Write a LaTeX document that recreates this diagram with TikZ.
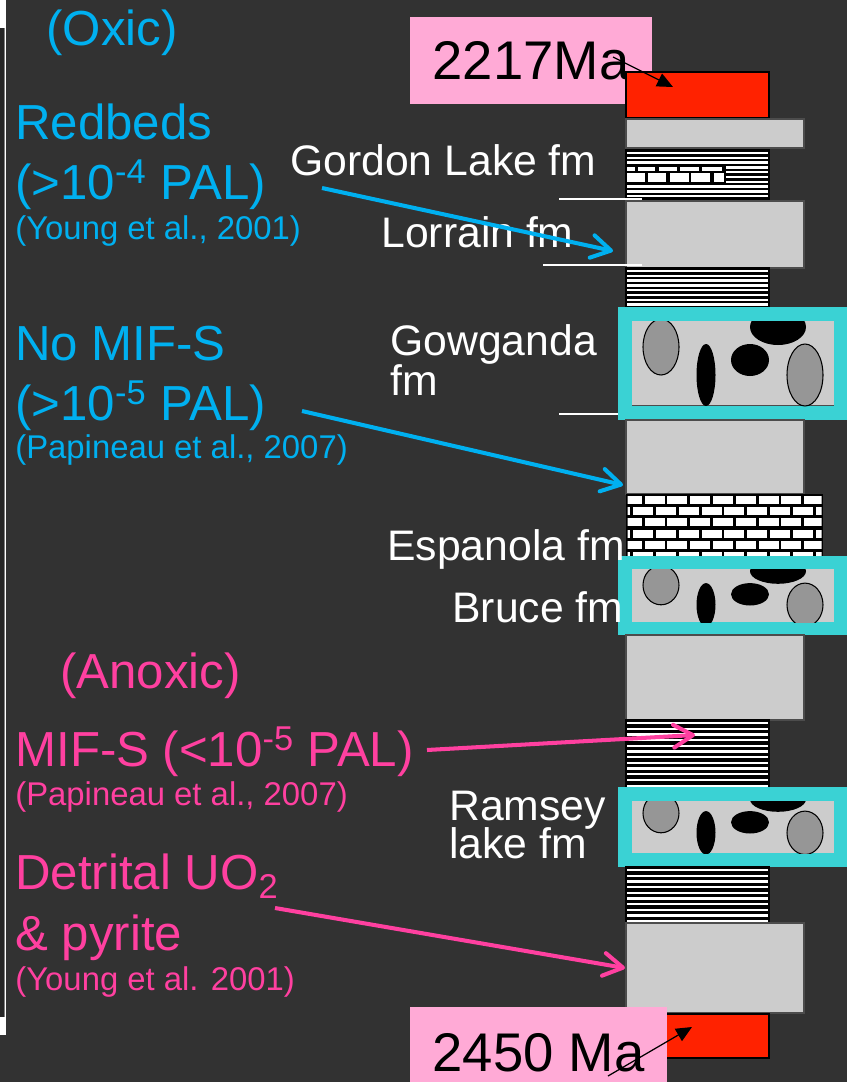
\documentclass[tikz,border=0pt]{standalone}
\usepackage{fontspec}
\setmainfont{Liberation Sans}
\usetikzlibrary{arrows.meta}

\definecolor{bgdark}{RGB}{50,50,50}
\definecolor{oxicblue}{RGB}{0,176,240}
\definecolor{anoxicpink}{RGB}{255,64,160}
\definecolor{agepink}{RGB}{255,170,214}
\definecolor{bedred}{RGB}{255,34,0}
\definecolor{bedgray}{RGB}{204,204,204}
\definecolor{clastgray}{RGB}{150,150,150}
\definecolor{framecyan}{RGB}{58,210,212}

\begin{document}
\begin{tikzpicture}[x=0.02cm, y=-0.02cm,
    graybed/.style={fill=bedgray, draw=black!70, line width=0.6pt},
    shalebed/.style={fill=black, draw=black, line width=0.9pt},
    shaleline/.style={white, line width=1.3pt},
    redbed/.style={fill=bedred, draw=black, line width=0.9pt},
    clast/.style={fill=clastgray, draw=black, line width=0.6pt},
    textlabel/.style={anchor=base west, inner sep=0pt},
    bigtext/.style={textlabel, font=\fontsize{28}{30}\selectfont},
    reftext/.style={textlabel, font=\fontsize{18.7}{20}\selectfont},
    fmtext/.style={textlabel, text=white, font=\fontsize{24.3}{26}\selectfont},
    agebox/.style={fill=agepink, inner sep=0pt, font=\fontsize{31}{33}\selectfont},
    fmtick/.style={white, line width=1pt},
    oxicarrow/.style={oxicblue, line width=2.3pt, -{Straight Barb[length=11pt, width=13pt, round]}},
    anoxicarrow/.style={anoxicpink, line width=2.3pt, -{Straight Barb[length=11pt, width=13pt, round]}},
    agearrow/.style={black, line width=0.7pt, -{Triangle[length=9pt, width=8pt]}}]
    \useasboundingbox (0,0) rectangle (847,1082);
    \fill[bgdark] (0,0) rectangle (847,1082);

    % draw cut edge on the left
    \fill[white] (0,0) rectangle (5.7,1035);
    \fill[black!85] (0,28) rectangle (3.5,1017);
    \draw[gray, line width=0.5pt] (4,28) -- (4,1017);

% column, top to bottom
    % draw top red bed and age box
    \node[agebox, minimum width=4.84cm, minimum height=1.74cm] (topage) at (531,60.5) {2217Ma};
    \filldraw[redbed] (626,72) rectangle (769,118);
    \filldraw[graybed] (626,119) rectangle (804,148);

    % draw Gordon Lake shale with limestone band
    \filldraw[shalebed] (626,150) rectangle (769,201);
    \foreach \y in {153,157.8,...,199}
        \draw[shaleline] (627,\y) -- (768,\y);
    \fill[black] (626,165) rectangle (726,183);
    \foreach \xa/\xb in {627/635, 637.5/655, 658.5/676.5, 680/698.5, 701.5/721.5}
        \fill[white] (\xa,166.7) rectangle (\xb,171);
    \foreach \xa/\xb in {627/644.5, 647.5/666, 669.5/688.5, 691/710, 713.5/724}
        \fill[white] (\xa,173.3) rectangle (\xb,181.7);

    % draw Lorrain sandstone and shale
    \filldraw[graybed] (626,201) rectangle (804,268);
    \filldraw[shalebed] (626,268) rectangle (769,307);
    \foreach \y in {271,275.8,...,306}
        \draw[shaleline] (627,\y) -- (768,\y);

    % draw Gowganda conglomerate
    \fill[framecyan] (618,307) rectangle (847,420);
    \fill[bedgray] (632,321) rectangle (834,406);
    \draw[black!70, line width=0.6pt] (632,405.5) -- (834,405.5);
    \begin{scope}
        \clip (632,321) rectangle (834,406);
        \begin{scope}[shift={(0,321)}]
            \filldraw[clast] (661,26) ellipse [x radius=18, y radius=28];
            \fill (706,54) ellipse [x radius=9.5, y radius=31];
            \fill (778,6) ellipse [x radius=28, y radius=18];
            \fill (750,39) ellipse [x radius=19, y radius=16];
            \filldraw[clast] (805,54) ellipse [x radius=18, y radius=31];
        \end{scope}
    \end{scope}
    \filldraw[graybed] (626,420) rectangle (804,494);

    % draw Espanola limestone
    \fill[black] (626,494) rectangle (823,556);
    \begin{scope}
        \clip (627.5,495.5) rectangle (821.5,556);
        \foreach \row in {0,...,5}
            \foreach \col in {0,...,9}
                \fill[white] ({621.7+22.8*\col-11.4*mod(\row,2)},{496+11.2*\row}) rectangle ++(20,8);
    \end{scope}

    % draw Bruce conglomerate
    \fill[framecyan] (618,556) rectangle (847,635);
    \fill[bedgray] (632,569) rectangle (834,622);
    \begin{scope}
        \clip (632,569) rectangle (834,622);
        \begin{scope}[shift={(0,567)}, yscale=0.7]
            \filldraw[clast] (661,26) ellipse [x radius=18, y radius=28];
            \fill (706,54) ellipse [x radius=9.5, y radius=31];
            \fill (778,6) ellipse [x radius=28, y radius=18];
            \fill (750,39) ellipse [x radius=19, y radius=16];
            \filldraw[clast] (805,54) ellipse [x radius=18, y radius=31];
        \end{scope}
    \end{scope}
    \filldraw[graybed] (626,635) rectangle (804,720);
    \filldraw[shalebed] (626,720) rectangle (769,787);
    \foreach \y in {723,728.7,...,786}
        \draw[shaleline] (627,\y) -- (768,\y);

    % draw Ramsey Lake conglomerate
    \fill[framecyan] (618,787) rectangle (847,867);
    \fill[bedgray] (632,801) rectangle (834,853);
    \begin{scope}
        \clip (632,801) rectangle (834,853);
        \begin{scope}[shift={(0,795)}, yscale=0.7]
            \filldraw[clast] (661,26) ellipse [x radius=18, y radius=28];
            \fill (706,54) ellipse [x radius=9.5, y radius=31];
            \fill (778,6) ellipse [x radius=28, y radius=18];
            \fill (750,39) ellipse [x radius=19, y radius=16];
            \filldraw[clast] (805,54) ellipse [x radius=18, y radius=31];
        \end{scope}
    \end{scope}
    \filldraw[shalebed] (626,867) rectangle (769,923);
    \foreach \y in {870,875.7,...,922}
        \draw[shaleline] (627,\y) -- (768,\y);
    \filldraw[graybed] (626,923) rectangle (804,1013);

    % draw bottom red bed and age box
    \filldraw[redbed] (626,1014) rectangle (769,1058);
    \node[agebox, minimum width=5.14cm, minimum height=1.82cm] (baseage) at (538.5,1052.5) {2450 Ma};

    % draw formation ticks
    \draw[fmtick] (559,199) -- (642,199);
    \draw[fmtick] (543,265) -- (642,265);
    \draw[fmtick] (559,414) -- (618,414);

% formation names
    \node[fmtext] (gordon) at (290,175) {Gordon Lake fm};
    \node[fmtext] (lorrain) at (381,247) {Lorrain fm};
    \node[fmtext] (gowganda) at (390,355) {Gowganda};
    \node[fmtext] (gowgandafm) at (390,395) {fm};
    \node[fmtext] (espanola) at (387,560) {Espanola fm};
    \node[fmtext] (bruce) at (452,622) {Bruce fm};
    \node[fmtext] (ramsey) at (449,820) {Ramsey};
    \node[fmtext] (ramseyfm) at (449,858) {lake fm};

% oxic evidence
    \node[bigtext, text=oxicblue] (oxic) at (46,45) {(Oxic)};
    \node[bigtext, text=oxicblue] (redbeds) at (15,139) {Redbeds};
    \node[bigtext, text=oxicblue] (redbedspal) at (15,199) {(>10\textsuperscript{-4} PAL)};
    \node[reftext, text=oxicblue] (redbedsref) at (15,239) {(Young et al., 2001)};
    \node[bigtext, text=oxicblue] (nomif) at (15,360) {No MIF-S};
    \node[bigtext, text=oxicblue] (nomifpal) at (15,420) {(>10\textsuperscript{-5} PAL)};
    \node[reftext, text=oxicblue] (nomifref) at (15,458) {(Papineau et al., 2007)};

% anoxic evidence
    \node[bigtext, text=anoxicpink] (anoxic) at (60,688) {(Anoxic)};
    \node[bigtext, text=anoxicpink] (mifs) at (15,766) {MIF-S (<10\textsuperscript{-5} PAL)};
    \node[reftext, text=anoxicpink] (mifsref) at (15,805) {(Papineau et al., 2007)};
    \node[bigtext, text=anoxicpink] (detrital) at (15,889) {Detrital UO\textsubscript{2}};
    \node[bigtext, text=anoxicpink] (pyrite) at (15,950) {\& pyrite};
    \node[reftext, text=anoxicpink] (detritalref) at (15,990) {(Young et al. 2001)};

    % draw arrows
    \coordinate (redbedstail) at (322,188);
    \coordinate (lorraintip) at (613,251);
    \coordinate (nomiftail) at (302,411);
    \coordinate (gowgandatip) at (623,485);
    \coordinate (mifstail) at (427,750);
    \coordinate (shaletip) at (695,735);
    \coordinate (uotail) at (275,908);
    \coordinate (ramseytip) at (625,968);
    \draw[oxicarrow] (redbedstail) -- (lorraintip);
    \draw[oxicarrow] (nomiftail) -- (gowgandatip);
    \draw[anoxicarrow] (mifstail) -- (shaletip);
    \draw[anoxicarrow] (uotail) -- (ramseytip);

    \coordinate (topagetail) at (613,57);
    \coordinate (topbedtip) at (673,87);
    \coordinate (baseagetail) at (608,1076);
    \coordinate (basebedtip) at (692,1027);
    \draw[agearrow] (topagetail) -- (topbedtip);
    \draw[agearrow] (baseagetail) -- (basebedtip);
\end{tikzpicture}
\end{document}
